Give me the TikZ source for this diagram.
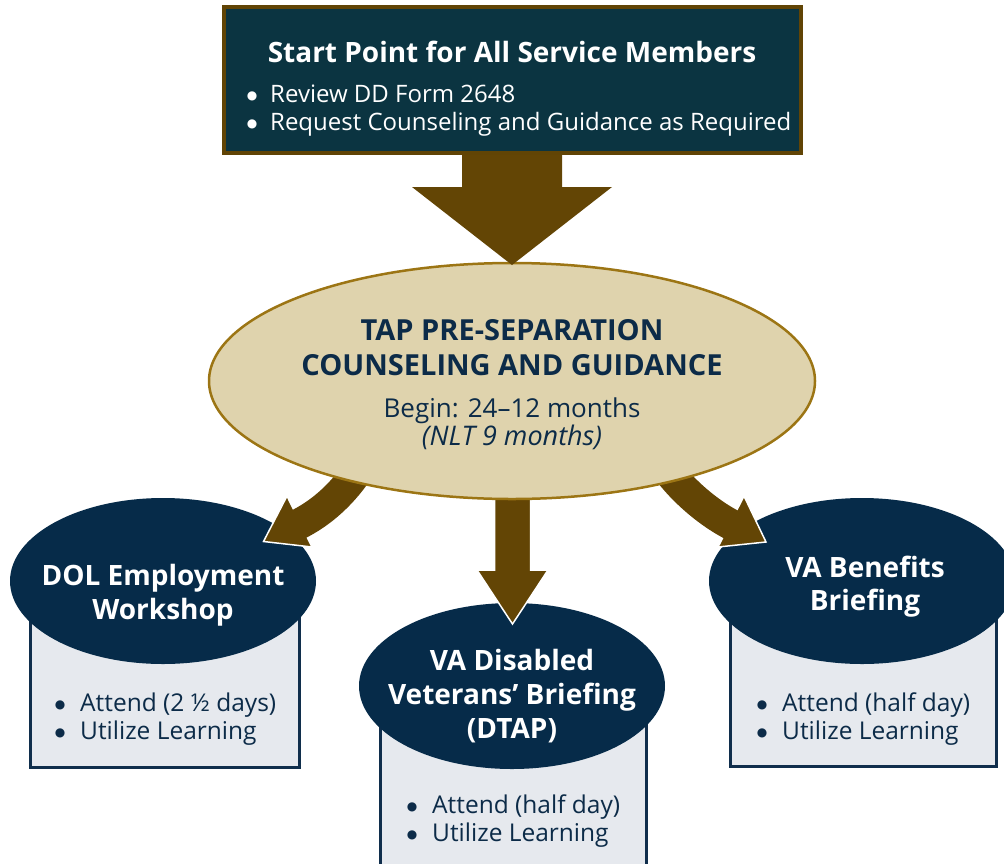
\documentclass[tikz,border=0pt]{standalone}
\usepackage{fontspec}
\setmainfont{Open Sans}
\newfontfamily\bulfont{DejaVu Sans}
\usetikzlibrary{shapes.geometric}
\definecolor{cTeal}{HTML}{0B3441}
\definecolor{cTopBorder}{HTML}{614405}
\definecolor{cArrow}{HTML}{634505}
\definecolor{cTan}{HTML}{DFD3AD}
\definecolor{cTanBorder}{HTML}{9C7514}
\definecolor{cNavy}{HTML}{062B49}
\definecolor{cBoxFill}{HTML}{E6E9EE}
\definecolor{cBoxBorder}{HTML}{102E4C}
\definecolor{cText}{HTML}{0C2B48}
\newcommand\mybul[1]{\makebox[#1][c]{\raisebox{2.6pt}{\bulfont\fontsize{12}{12}\selectfont ●}}}
\begin{document}
\begin{tikzpicture}[x=1pt,y=-1pt,
  navyell/.style={ellipse, fill=cNavy, inner sep=0pt, minimum width=306pt, minimum height=166pt},
  navytext/.style={text=white, anchor=base, inner sep=0pt, font=\fontsize{28}{34}\selectfont\bfseries},
  infobox/.style={draw=cBoxBorder, line width=3pt, fill=cBoxFill, inner sep=0pt, anchor=north west},
  bulblock/.style={anchor=base west, align=left, inner sep=0pt, text=cText, font=\fontsize{24.5}{28}\selectfont},
  blockarrow/.style={fill=cArrow, draw=white, line width=1.5pt, line join=miter},
  shaft/.style={draw=cArrow, line width=31pt},
  taptext/.style={text=cText, inner sep=0pt, anchor=base},
  topblock/.style={text=white, inner sep=0pt, anchor=base west, align=left, font=\fontsize{24}{28}\selectfont}
  ]
\useasboundingbox (0,0) rectangle (1004,863);

% info boxes
\node[infobox, minimum width=269pt, minimum height=185pt] (dolbox) at (29,581) {};
\node[infobox, minimum width=266pt, minimum height=179pt] (dtapbox) at (379,686) {};
\node[infobox, minimum width=266pt, minimum height=184pt] (vabox) at (729,581) {};

% navy ellipses
\node[navyell] (dol) at (163,581) {};
\node[navyell] (dtap) at (512,686) {};
\node[navyell] (vab) at (862,581) {};

\node[navytext] (dol1) at (163,585) {DOL Employment};
\node[navytext] (dol2) at (163,619) {Workshop};
\node[navytext] (dtap1) at (512,670) {VA Disabled};
\node[navytext] (dtap2) at (512,704) {Veterans’ Briefing};
\node[navytext] (dtap3) at (512,738) {(DTAP)};
\node[navytext] (vab1) at (865,577) {VA Benefits};
\node[navytext] (vab2) at (865,610) {Briefing};

% bullet blocks (base anchor = baseline of last line)
\node[bulblock] (dolb) at (40,739) {\mybul{40pt}Attend (2 ½ days)\\\mybul{40pt}Utilize Learning};
\node[bulblock] (dtapb) at (392,841) {\mybul{40pt}Attend (half day)\\\mybul{40pt}Utilize Learning};
\node[bulblock] (vabb) at (742,739) {\mybul{40pt}Attend (half day)\\\mybul{40pt}Utilize Learning};

% lower arrows
\coordinate (lt) at (263.5,541.5);
\coordinate (l1) at (287,496);
\coordinate (l2) at (312,547);
\fill[blockarrow] (lt) -- (l1) -- (l2) -- cycle;
\draw[shaft] (370,450) .. controls (355,480) and (330,509) .. (297,525);

\coordinate (rt) at (766,542);
\coordinate (r1) at (744,496);
\coordinate (r2) at (718,547);
\fill[blockarrow] (rt) -- (r1) -- (r2) -- cycle;
\draw[shaft] (655,450) .. controls (670,480) and (703,510) .. (732,525);

\filldraw[blockarrow] (494.5,490) -- (530.5,490) -- (530.5,570) -- (548,570) -- (512.5,624) -- (477,570) -- (494.5,570) -- cycle;

% central ellipse
\node[ellipse, draw=cTanBorder, line width=2.5pt, fill=cTan, inner sep=0pt,
      minimum width=606pt, minimum height=236pt] (tap) at (512,381) {};
\node[taptext, font=\fontsize{29}{34}\selectfont\bfseries] (tap1) at (512,340) {TAP PRE-SEPARATION};
\node[taptext, font=\fontsize{29}{34}\selectfont\bfseries] (tap2) at (512,375) {COUNSELING AND GUIDANCE};
\node[taptext, font=\fontsize{26}{30}\selectfont] (tap3) at (512,417) {Begin: 24–12 months};
\node[taptext, font=\fontsize{27}{30}\selectfont\itshape] (tap4) at (512,445) {(NLT 9 months)};

% top arrow
\fill[cArrow] (462,150) -- (562,150) -- (562,187) -- (612,187) -- (512,265) -- (412,187) -- (462,187) -- cycle;

% top box
\node[draw=cTopBorder, line width=4pt, fill=cTeal, minimum width=577pt, minimum height=146pt, inner sep=0pt] (start) at (512.5,80) {};
\node[text=white, inner sep=0pt, anchor=base, font=\fontsize{28}{30}\selectfont\bfseries] (starttitle) at (512,62) {Start Point for All Service Members};
\node[topblock] (sb) at (234,130) {\mybul{36pt}Review DD Form 2648\\\mybul{36pt}Request Counseling and Guidance as Required};
\end{tikzpicture}
\end{document}
